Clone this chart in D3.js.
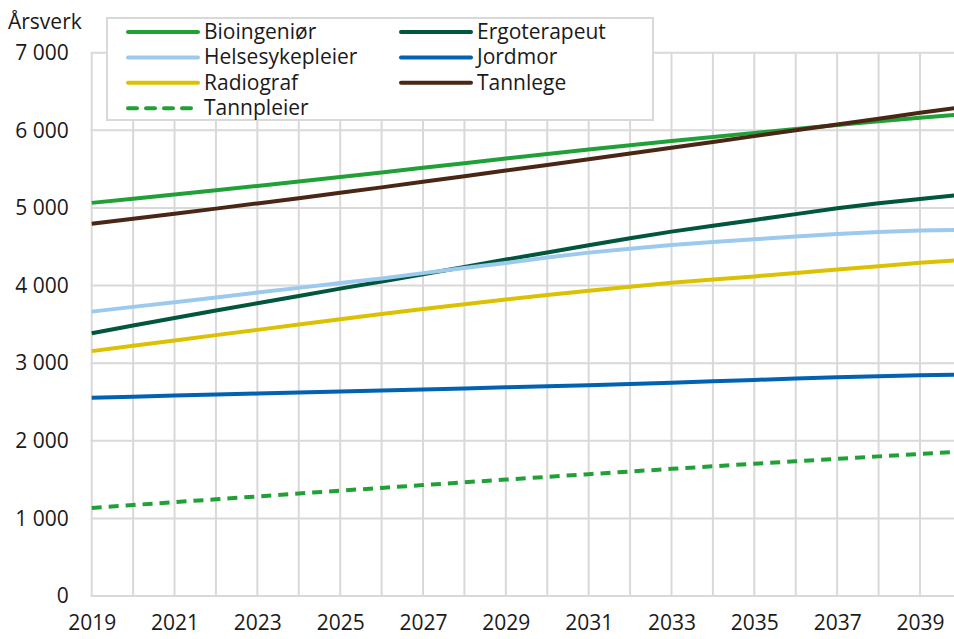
<!DOCTYPE html>
<html>
<head>
<meta charset="utf-8">
<script src="https://cdn.jsdelivr.net/npm/d3@7"></script>
<style>
  body { margin: 0; background: #fff; }
  svg text { font-family: "Open Sans", sans-serif; fill: #1a1a1a; }
</style>
</head>
<body>
<div id="chart"></div>
<script>
// years on the x axis
const years = d3.range(2019, 2041);
const yTicks = [0, 1000, 2000, 3000, 4000, 5000, 6000, 7000];
const xLabels = [2019, 2021, 2023, 2025, 2027, 2029, 2031, 2033, 2035, 2037, 2039];

// series values (årsverk)
const bioingenior = [5065, 5118, 5172, 5227, 5283, 5340, 5398, 5457, 5517, 5577, 5637, 5695, 5752, 5807, 5862, 5915, 5967, 6018, 6068, 6116, 6163, 6205];
const ergoterapeut = [3385, 3485, 3582, 3678, 3772, 3866, 3960, 4053, 4145, 4240, 4335, 4425, 4520, 4610, 4695, 4770, 4845, 4920, 4995, 5060, 5115, 5170];
const helsesykepleier = [3664, 3725, 3785, 3847, 3909, 3970, 4032, 4090, 4160, 4225, 4290, 4360, 4424, 4475, 4523, 4560, 4596, 4632, 4665, 4690, 4708, 4718];
const jordmor = [2555, 2568, 2582, 2595, 2608, 2622, 2635, 2648, 2661, 2674, 2688, 2702, 2716, 2732, 2749, 2766, 2784, 2801, 2818, 2831, 2844, 2852];
const radiograf = [3155, 3225, 3293, 3361, 3429, 3497, 3565, 3633, 3698, 3760, 3820, 3878, 3934, 3985, 4035, 4078, 4118, 4163, 4208, 4250, 4293, 4330];
const tannlege = [4795, 4860, 4925, 4991, 5058, 5126, 5195, 5265, 5336, 5408, 5481, 5554, 5627, 5701, 5775, 5850, 5925, 6000, 6075, 6150, 6225, 6297];
const tannpleier = [1135, 1172, 1209, 1246, 1283, 1320, 1357, 1393, 1429, 1465, 1500, 1535, 1570, 1604, 1638, 1671, 1704, 1736, 1768, 1799, 1830, 1860];

// legend order (two columns, read row by row)
const series = [
    {name: "Bioingeniør", values: bioingenior, color: "#22a038", dash: null},
    {name: "Ergoterapeut", values: ergoterapeut, color: "#00573d", dash: null},
    {name: "Helsesykepleier", values: helsesykepleier, color: "#9ccaee", dash: null},
    {name: "Jordmor", values: jordmor, color: "#0062b0", dash: null},
    {name: "Radiograf", values: radiograf, color: "#dcc100", dash: null},
    {name: "Tannlege", values: tannlege, color: "#4a2714", dash: null},
    {name: "Tannpleier", values: tannpleier, color: "#22a038", dash: "10,7"}
];

const width = 954, height = 639;
const grid = "#d9d9d9";
const fontSize = "21px";

const svg = d3.select("#chart").append("svg")
    .attr("width", width)
    .attr("height", height);

// scales: plot runs past the right edge, so 2040 gets clipped like the original
const x = d3.scaleLinear().domain([2019, 2040]).range([91.7, 961.4]);
const y = d3.scaleLinear().domain([0, 7000]).range([596, 52.7]);

// gridlines
svg.append("g").selectAll("line.v")
    .data(years)
    .join("line")
    .attr("x1", d => x(d)).attr("x2", d => x(d))
    .attr("y1", y(7000)).attr("y2", y(0))
    .attr("stroke", grid).attr("stroke-width", 2);

svg.append("g").selectAll("line.h")
    .data(yTicks)
    .join("line")
    .attr("x1", x(2019) - 1).attr("x2", width)
    .attr("y1", d => y(d)).attr("y2", d => y(d))
    .attr("stroke", grid).attr("stroke-width", 2);

// y axis labels
const fmt = d => d3.format(",")(d).replace(/,/g, "\u00a0");
const yAxis = d3.axisLeft(y).tickValues(yTicks).tickSize(0).tickPadding(23).tickFormat(fmt);
svg.append("g")
    .attr("transform", "translate(" + x(2019) + ",0)")
    .call(yAxis)
    .call(g => g.select(".domain").remove())
    .selectAll("text")
    .style("font-size", fontSize)
    .style("font-family", "'Open Sans', sans-serif")
    .attr("fill", "#1a1a1a");

// x axis labels
const xAxis = d3.axisBottom(x).tickValues(xLabels).tickSize(0).tickPadding(19).tickFormat(d3.format("d"));
svg.append("g")
    .attr("transform", "translate(0," + y(0) + ")")
    .call(xAxis)
    .call(g => g.select(".domain").remove())
    .selectAll("text")
    .style("font-size", fontSize)
    .style("font-family", "'Open Sans', sans-serif")
    .attr("fill", "#1a1a1a");

svg.append("text")
    .attr("x", 8)
    .attr("y", 29)
    .style("font-size", fontSize)
    .text("Årsverk");

// lines
const line = d3.line()
    .x((d, i) => x(years[i]))
    .y(d => y(d));

svg.append("g").selectAll("path")
    .data(series)
    .join("path")
    .attr("d", d => line(d.values))
    .attr("fill", "none")
    .attr("stroke", d => d.color)
    .attr("stroke-width", 4)
    .attr("stroke-dasharray", d => d.dash);

// legend
const legend = svg.append("g");
legend.append("rect")
    .attr("x", 107).attr("y", 18)
    .attr("width", 546).attr("height", 102)
    .attr("fill", "#fff")
    .attr("stroke", grid).attr("stroke-width", 2);

const items = legend.selectAll("g.item")
    .data(series)
    .join("g")
    .attr("transform", (d, i) => "translate(" + (i % 2 ? 401 : 128) + "," + (32 + Math.floor(i / 2) * 25.4) + ")");

items.append("line")
    .attr("x1", 0).attr("x2", 70)
    .attr("stroke", d => d.color)
    .attr("stroke-width", 4)
    .attr("stroke-linecap", "round")
    .attr("stroke-dasharray", d => d.dash ? "9,9" : null);

items.append("text")
    .attr("x", 76)
    .attr("y", 7)
    .style("font-size", fontSize)
    .text(d => d.name);
</script>
</body>
</html>
